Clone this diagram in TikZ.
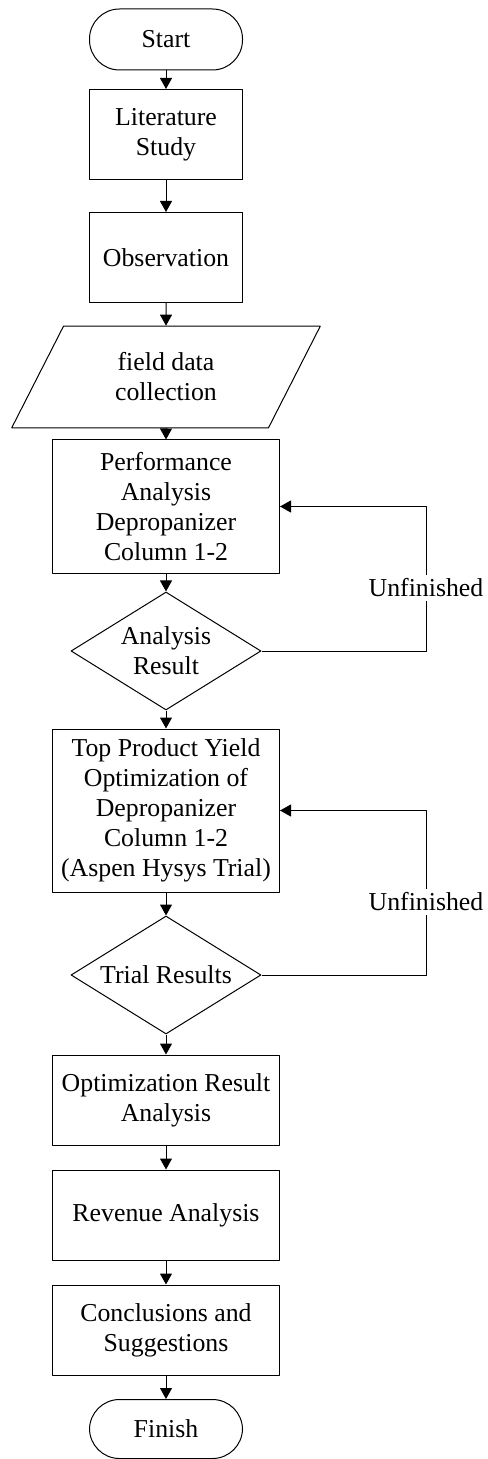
\documentclass[tikz,border=0pt]{standalone}
\usepackage{fontspec}
\setmainfont{Liberation Serif}
\usetikzlibrary{shapes.geometric,arrows.meta}

\begin{document}
\begin{tikzpicture}[x=0.5pt,y=-0.5pt,line width=0.5pt, font={\fontsize{12.9pt}{15pt}\selectfont}, line join=round, >={Triangle[length=5.5pt,width=6pt]},
	term/.style={draw, rectangle, rounded corners=15pt, minimum width=76.5pt, minimum height=30.5pt, inner sep=1pt},
	proc/.style={draw, rectangle, align=center, minimum width=113.5pt, minimum height=45pt, inner sep=1pt},
	datain/.style={draw, trapezium, trapezium left angle=63, trapezium right angle=117, align=center, minimum width=154.5pt, minimum height=45pt, inner sep=1pt},
	decide/.style={draw, diamond, align=center, aspect=1.61, minimum width=95pt, minimum height=59pt, inner sep=0pt},
	note/.style={fill=white, inner sep=2pt}]
	\useasboundingbox (0,0) rectangle (487,1459);
	% Cac khoi chinh
	\node[term] (start) at (166,39.5) {Start};
	\node[proc, minimum width=76.5pt] (lit) at (166,134.5) {Literature\\Study};
	\node[proc, minimum width=76.5pt] (obs) at (166,257.5) {Observation};
	\node[datain] (data) at (166,377) {field data\\collection};
	\node[proc, minimum height=66.5pt] (perf) at (166,506.5) {Performance\\Analysis\\Depropanizer\\Column 1-2};
	\node[decide] (ana) at (166,651) {Analysis\\Result};
	\node[proc, minimum height=81.5pt] (top) at (166,810.5) {Top Product Yield\\Optimization of\\Depropanizer\\Column 1-2\\(Aspen Hysys Trial)};
	\node[decide] (trial) at (166,975) {Trial Results};
	\node[proc] (opt) at (166,1100) {Optimization Result\\Analysis};
	\node[proc] (rev) at (166,1215) {Revenue Analysis};
	\node[proc] (conc) at (166,1330) {Conclusions and\\Suggestions};
	\node[term, minimum height=29.5pt] (fin) at (166,1429) {Finish};
	% Mui ten
	\draw[->] (start) -- (lit);
	\draw[->] (lit) -- (obs);
	\draw[->] (obs) -- (data);
	\draw[->] (data) -- (perf);
	\draw[->] (perf) -- (ana);
	\draw[->] (ana) -- (top);
	\draw[->] (top) -- (trial);
	\draw[->] (trial) -- (opt);
	\draw[->] (opt) -- (rev);
	\draw[->] (rev) -- (conc);
	\draw[->] (conc) -- (fin);
	% Vong lap
	\coordinate (r1) at (426,651);
	\coordinate (r2) at (426,975);
	\draw[->] (ana.east) -- (r1) |- (perf.east);
	\draw[->] (trial.east) -- (r2) |- (top.east);
	\node[note] (u1) at (426,588) {Unfinished};
	\node[note] (u2) at (426,902) {Unfinished};
\end{tikzpicture}
\end{document}
